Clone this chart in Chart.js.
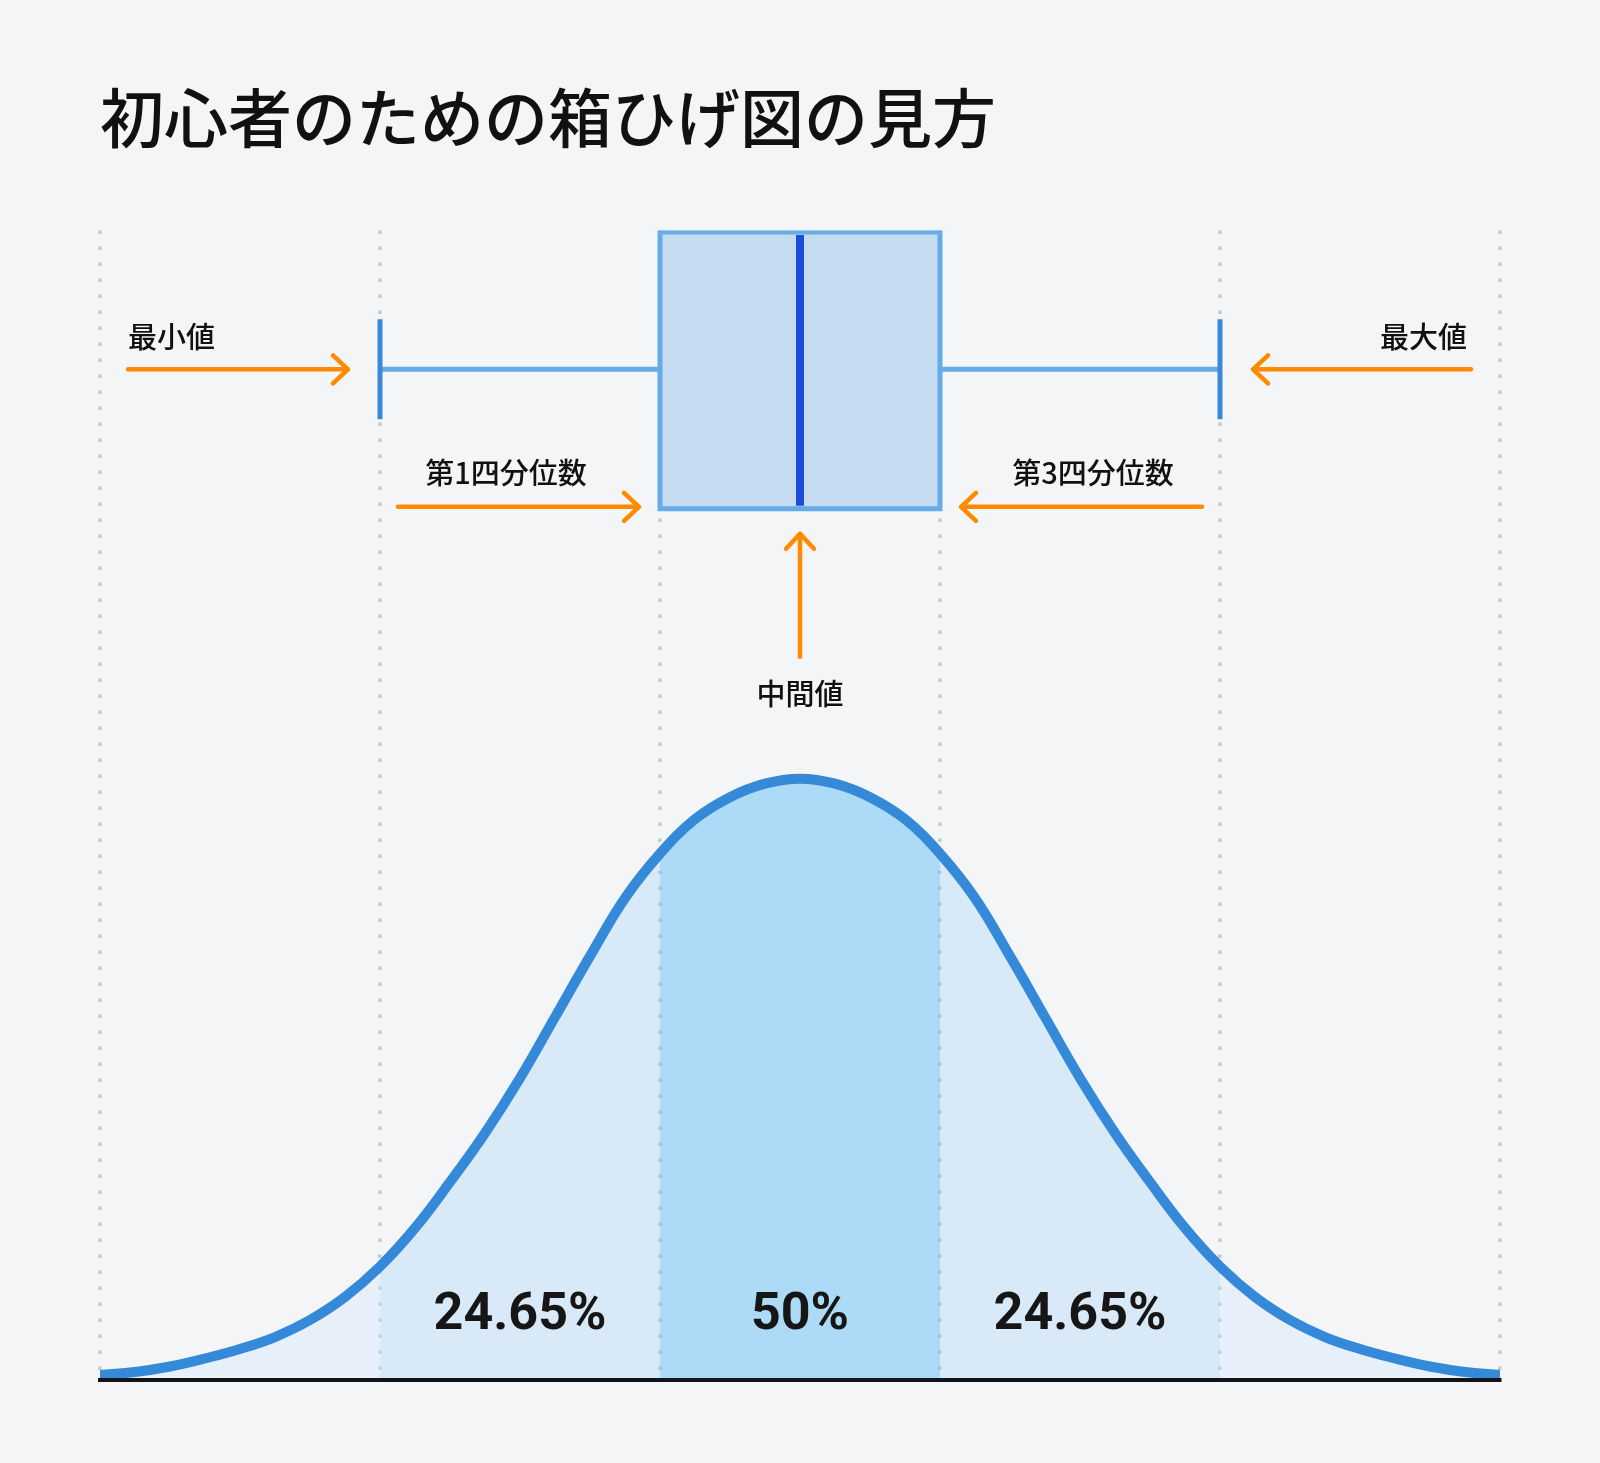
<!DOCTYPE html>
<html lang="ja">
<head>
<meta charset="utf-8">
<title>初心者のための箱ひげ図の見方</title>
<script src="https://cdn.jsdelivr.net/npm/chart.js@4.4.1/dist/chart.umd.min.js"></script>
<style>
  html, body {margin: 0; padding: 0; background: #f3f5f7;}
  canvas {display: block;}
</style>
</head>
<body>
<canvas id="chart" width="1600" height="1463"></canvas>
<script>
// curve of the distribution (x in grid steps, y in px/10 above the axis)
const curveX = [
  0, 0.125, 0.25, 0.375, 0.5, 0.625, 0.75, 0.875, 1, 1.125,
  1.25, 1.375, 1.5, 1.625, 1.75, 1.875, 2, 2.125, 2.25, 2.375,
  2.5,
  2.625, 2.75, 2.875, 3, 3.125, 3.25, 3.375, 3.5, 3.625, 3.75,
  3.875, 4, 4.125, 4.25, 4.375, 4.5, 4.625, 4.75, 4.875, 5,
];
const curveY = [
  0.5, 0.8, 1.35, 2.15, 3.1, 4.3, 6.0, 8.3, 11.35, 15.2,
  19.8, 24.7, 30.2, 36.3, 42.4, 48.2, 52.65, 56.1, 58.3, 59.65,
  60.15,
  59.65, 58.3, 56.1, 52.65, 48.2, 42.4, 36.3, 30.2, 24.7, 19.8,
  15.2, 11.35, 8.3, 6.0, 4.3, 3.1, 2.15, 1.35, 0.8, 0.5,
];

// five number summary
const statLabels = ["最小値", "第1四分位数", "中間値", "第3四分位数", "最大値"];
const statValues = [1, 2, 2.5, 3, 4];

// share of the data in each band
const shareLabels = ["24.65%", "50%", "24.65%"];
const shareCenters = [1.5, 2.5, 3.5];

const TITLE = "初心者のための箱ひげ図の見方";

// vertical placement of the box plot (same units as curveY)
const BOX_TOP = 114.85;
const BOX_BOTTOM = 87.15;
const WHISKER_Y = 101.1;
const CAP_TOP = 106.1;
const CAP_BOTTOM = 96.1;

const CJK = "\"Noto Sans CJK JP\", \"Noto Sans\", sans-serif";
const ORANGE = "#ff8a00";

const [minV, q1V, medV, q3V, maxV] = statValues;

const curve = curveX.map((x, i) => ({x, y: curveY[i]}));

function bandFill(ctx) {
  const chart = ctx.chart;
  const area = chart.chartArea;
  if (!area) return "rgba(0,0,0,0)";
  const xs = chart.scales.x;
  const pos = v => (xs.getPixelForValue(v) - area.left) / (area.right - area.left);
  const outer = "rgba(213,232,255,0.4)";
  const mid = "rgba(176,215,250,0.4)";
  const center = "rgba(66,180,247,0.4)";
  const g = chart.ctx.createLinearGradient(area.left, 0, area.right, 0);
  g.addColorStop(0, outer);
  g.addColorStop(pos(minV), outer);
  g.addColorStop(pos(minV), mid);
  g.addColorStop(pos(q1V), mid);
  g.addColorStop(pos(q1V), center);
  g.addColorStop(pos(q3V), center);
  g.addColorStop(pos(q3V), mid);
  g.addColorStop(pos(maxV), mid);
  g.addColorStop(pos(maxV), outer);
  g.addColorStop(1, outer);
  return g;
}

function drawArrow(ctx, x1, y1, x2, y2) {
  const a = Math.atan2(y2 - y1, x2 - x1);
  const back = 15;
  const side = 14;
  const bx = x2 - back * Math.cos(a);
  const by = y2 - back * Math.sin(a);
  ctx.beginPath();
  ctx.moveTo(x1, y1);
  ctx.lineTo(x2, y2);
  ctx.moveTo(bx - side * Math.sin(a), by + side * Math.cos(a));
  ctx.lineTo(x2, y2);
  ctx.lineTo(bx + side * Math.sin(a), by - side * Math.cos(a));
  ctx.stroke();
}

const annotations = {
  id: "annotations",
  afterDraw(chart) {
    const {ctx, chartArea} = chart;
    const px = v => chart.scales.x.getPixelForValue(v);
    const py = v => chart.scales.y.getPixelForValue(v);

    ctx.save();
    ctx.strokeStyle = ORANGE;
    ctx.lineWidth = 4.5;
    ctx.lineCap = "round";
    ctx.lineJoin = "round";
    ctx.fillStyle = "#111";
    ctx.textBaseline = "middle";
    ctx.font = `500 29px ${CJK}`;

    const wy = py(WHISKER_Y);
    const by = py(BOX_BOTTOM);

    // min / max
    drawArrow(ctx, chartArea.left + 28, wy, px(minV) - 32, wy);
    ctx.textAlign = "left";
    ctx.fillText(statLabels[0], chartArea.left + 28, wy - 32);

    drawArrow(ctx, chartArea.right - 29, wy, px(maxV) + 33, wy);
    ctx.textAlign = "right";
    ctx.fillText(statLabels[4], chartArea.right - 33, wy - 32);

    // quartiles
    const qy = by - 2;
    drawArrow(ctx, px(minV) + 18, qy, px(q1V) - 21, qy);
    drawArrow(ctx, px(maxV) - 18, qy, px(q3V) + 21, qy);
    ctx.textAlign = "center";
    ctx.fillText(statLabels[1], (px(minV) + px(q1V)) / 2 - 14, qy - 34);
    ctx.fillText(statLabels[3], (px(q3V) + px(maxV)) / 2 + 13, qy - 34);

    // median
    drawArrow(ctx, px(medV), by + 148, px(medV), by + 25);
    ctx.fillText(statLabels[2], px(medV), by + 185);

    // band shares
    ctx.font = "bold 52px Roboto, \"Liberation Sans\", sans-serif";
    ctx.fillStyle = "#161616";
    shareLabels.forEach((label, i) => {
      ctx.fillText(label, px(shareCenters[i]), chartArea.bottom - 64);
    });
    ctx.restore();
  },
};

const line = (data, color, width, extra) => ({
  type: "line",
  data,
  borderColor: color,
  borderWidth: width,
  pointRadius: 0,
  fill: false,
  spanGaps: false,
  ...extra,
});

new Chart(document.getElementById("chart"), {
  type: "line",
  data: {
    datasets: [
      line(curve, "#3489d8", 10, {
        order: 6,
        fill: "origin",
        backgroundColor: bandFill,
        tension: 0.4,
        borderCapStyle: "round",
      }),
      line([{x: q1V, y: BOX_TOP}, {x: q3V, y: BOX_TOP}], "rgba(0,0,0,0)", 0, {
        order: 5,
        fill: {value: BOX_BOTTOM},
        backgroundColor: "#c5dcf0",
      }),
      line([
        {x: minV, y: WHISKER_Y}, {x: q1V, y: WHISKER_Y}, {x: medV, y: null},
        {x: q3V, y: WHISKER_Y}, {x: maxV, y: WHISKER_Y},
      ], "#66aae8", 5, {order: 4}),
      line([
        {x: minV, y: CAP_TOP}, {x: minV, y: CAP_BOTTOM}, {x: medV, y: null},
        {x: maxV, y: CAP_TOP}, {x: maxV, y: CAP_BOTTOM},
      ], "#3a88d8", 5, {order: 3}),
      line([
        {x: q1V, y: BOX_TOP}, {x: q3V, y: BOX_TOP}, {x: q3V, y: BOX_BOTTOM},
        {x: q1V, y: BOX_BOTTOM}, {x: q1V, y: BOX_TOP},
      ], "#66aae8", 5, {order: 2, borderCapStyle: "square", borderJoinStyle: "miter"}),
      line([{x: medV, y: BOX_TOP - 0.3}, {x: medV, y: BOX_BOTTOM + 0.3}], "#1a4fd8", 8, {order: 1}),
    ],
  },
  options: {
    responsive: false,
    animation: false,
    layout: {padding: {left: 100, right: 100, top: 0, bottom: 83}},
    scales: {
      x: {
        type: "linear",
        min: 0,
        max: 5,
        ticks: {display: false, stepSize: 1},
        grid: {color: "#c6c8cb", lineWidth: 3.5, drawTicks: false},
        border: {display: true, color: "#121417", width: 4, dash: [3.5, 12.5], z: 1},
      },
      y: {
        type: "linear",
        min: 0,
        max: 115,
        display: false,
      },
    },
    plugins: {
      legend: {display: false},
      tooltip: {enabled: false},
      title: {
        display: true,
        text: TITLE,
        align: "start",
        color: "#111",
        font: {family: CJK, size: 64, weight: "500"},
        padding: {top: 79, bottom: 74.6},
      },
    },
  },
  plugins: [annotations],
});
</script>
</body>
</html>
